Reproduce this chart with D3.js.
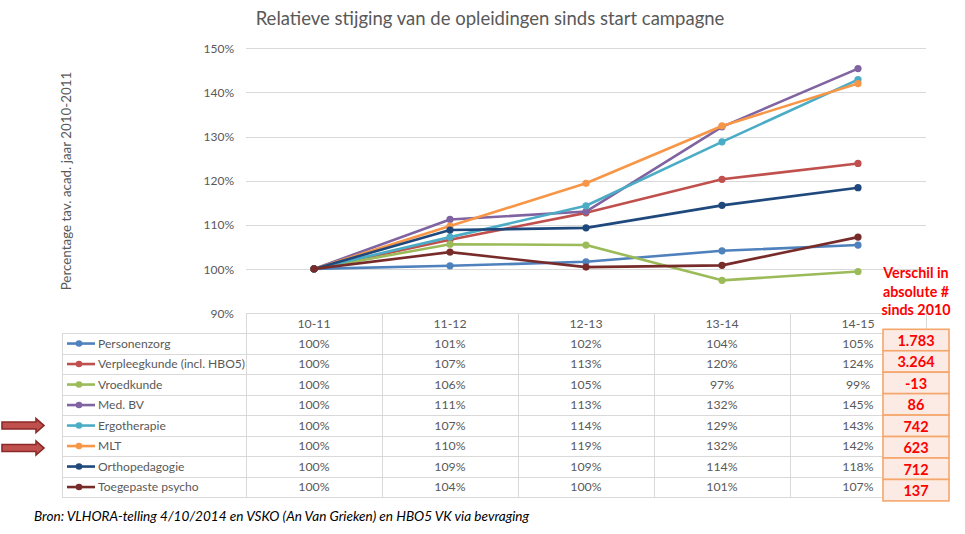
<!DOCTYPE html>
<html><head><meta charset="utf-8">
<script src="https://cdn.jsdelivr.net/npm/d3@7"></script>
<style>
html,body{margin:0;padding:0;background:#fff;}
svg{display:block;font-family:Lato,"Open Sans",sans-serif;}
</style></head>
<body>
<svg id="chart" width="965" height="534"></svg>
<script>
const categories = ["10-11","11-12","12-13","13-14","14-15"];
const seriesNames = ["Personenzorg","Verpleegkunde (incl. HBO5)","Vroedkunde","Med. BV","Ergotherapie","MLT","Orthopedagogie","Toegepaste psycho"];
const personenzorg = [1.000,1.007,1.016,1.041,1.054];
const verpleegkunde = [1.000,1.066,1.127,1.203,1.239];
const vroedkunde = [1.000,1.056,1.054,0.974,0.994];
const medBV = [1.000,1.112,1.130,1.322,1.454];
const ergotherapie = [1.000,1.072,1.143,1.288,1.429];
const mlt = [1.000,1.097,1.194,1.324,1.420];
const orthopedagogie = [1.000,1.088,1.093,1.144,1.184];
const toegepastePsycho = [1.000,1.038,1.004,1.008,1.072];
const seriesValues = [personenzorg,verpleegkunde,vroedkunde,medBV,ergotherapie,mlt,orthopedagogie,toegepastePsycho];
const seriesColors = ["#4f81bd","#c0504d","#9bbb59","#8064a2","#4bacc6","#f79646","#1f497d","#772c2a"];
const absoluteDiff = ["1.783","3.264","-13","86","742","623","712","137"];
const yTicks = [0.9,1.0,1.1,1.2,1.3,1.4,1.5];
const highlighted = ["Ergotherapie","MLT"];
const titleText = "Relatieve stijging van de opleidingen sinds start campagne";
const yLabel = "Percentage tav. acad. jaar 2010-2011";
const diffHeader = ["Verschil in","absolute #","sinds  2010"];
const sourceText = "Bron: VLHORA-telling 4/10/2014 en VSKO (An Van Grieken) en HBO5 VK via bevraging";

const svg = d3.select("#chart");
const textCol = "#595959", gridCol = "#d9d9d9";
const x = d3.scaleBand().domain(categories).range([246,926]);
const y = d3.scaleLinear().domain([0.9,1.5]).range([313,48.3]);

// title
svg.append("text").attr("x",490).attr("y",25).attr("text-anchor","middle")
  .attr("font-size",18.5).attr("fill",textCol).text(titleText);

// y label
svg.append("text").attr("transform","translate(71,181) rotate(-90)")
  .attr("text-anchor","middle").attr("font-size",13.4).attr("fill",textCol).text(yLabel);

// gridlines
svg.append("g").selectAll("line").data(yTicks.filter(d=>d>0.9)).join("line")
  .attr("x1",246).attr("x2",926).attr("y1",d=>Math.round(y(d))+0.5).attr("y2",d=>Math.round(y(d))+0.5)
  .attr("stroke",gridCol).attr("stroke-width",1);

// y axis
const yAxis = d3.axisLeft(y).tickValues(yTicks).tickSize(0).tickPadding(0).tickFormat(d3.format(".0%"));
const ya = svg.append("g").attr("transform","translate(234,0)").call(yAxis);
ya.select(".domain").remove();
ya.selectAll("text").attr("font-size",12).attr("fill",textCol).attr("font-family","Lato,sans-serif").attr("dy","0.35em");

// lines
const line = d3.line().x((d,i)=>x(categories[i])+x.bandwidth()/2).y(d=>y(d));
seriesValues.forEach((vals,si)=>{
  const g = svg.append("g");
  g.append("path").attr("d",line(vals)).attr("fill","none").attr("stroke",seriesColors[si])
    .attr("stroke-width",2.6).attr("stroke-linejoin","round").attr("stroke-linecap","round");
  g.selectAll("circle").data(vals).join("circle")
    .attr("cx",(d,i)=>x(categories[i])+x.bandwidth()/2).attr("cy",d=>y(d)).attr("r",3.6)
    .attr("fill",seriesColors[si]);
});

// data table
const tbl = svg.append("g");
const rowTop = 333.3, rowH = 20.5, headTop = 313;
const tableLeft = 62, tableRight = 926;
const rowY = i => rowTop + i*rowH;
tbl.append("line").attr("x1",246).attr("x2",tableRight).attr("y1",headTop+0.5).attr("y2",headTop+0.5).attr("stroke",gridCol);
categories.forEach(c=>{
  tbl.append("text").attr("x",x(c)+x.bandwidth()/2).attr("y",headTop+15).attr("text-anchor","middle")
    .attr("font-size",12.3).attr("fill",textCol).text(c);
});
d3.range(seriesNames.length+1).forEach(i=>{
  tbl.append("line").attr("x1",tableLeft).attr("x2",tableRight).attr("y1",Math.round(rowY(i))+0.5).attr("y2",Math.round(rowY(i))+0.5).attr("stroke",gridCol);
});
tbl.append("line").attr("x1",tableLeft+0.5).attr("x2",tableLeft+0.5).attr("y1",rowY(0)).attr("y2",rowY(seriesNames.length)).attr("stroke",gridCol);
categories.forEach(c=>{
  const xx = Math.round(x(c))+0.5;
  tbl.append("line").attr("x1",xx).attr("x2",xx).attr("y1",headTop).attr("y2",rowY(seriesNames.length)).attr("stroke",gridCol);
});
tbl.append("line").attr("x1",tableRight+0.5).attr("x2",tableRight+0.5).attr("y1",headTop).attr("y2",rowY(seriesNames.length)).attr("stroke",gridCol);

seriesNames.forEach((name,si)=>{
  const cy = rowY(si)+rowH/2;
  tbl.append("line").attr("x1",67).attr("x2",95).attr("y1",cy).attr("y2",cy).attr("stroke",seriesColors[si]).attr("stroke-width",2.6);
  tbl.append("circle").attr("cx",79).attr("cy",cy).attr("r",3.3).attr("fill",seriesColors[si]);
  tbl.append("text").attr("x",98).attr("y",cy+4.3).attr("font-size",12.1).attr("fill",textCol).text(name);
  seriesValues[si].forEach((v,i)=>{
    tbl.append("text").attr("x",x(categories[i])+x.bandwidth()/2).attr("y",cy+4.3).attr("text-anchor","middle")
      .attr("font-size",12.3).attr("fill",textCol).text(Math.round(v*100)+"%");
  });
});

// arrows for highlighted rows
highlighted.forEach(name=>{
  const si = seriesNames.indexOf(name);
  const cy = rowY(si)+rowH/2 + (si===5?2:0);
  const p = `M2,${cy-3.5} L36,${cy-3.5} L36,${cy-7} L44,${cy} L36,${cy+7} L36,${cy+3.5} L2,${cy+3.5} Z`;
  svg.append("path").attr("d",p).attr("fill","#c0504d").attr("stroke","#8c2a28").attr("stroke-width",1.6).attr("stroke-linejoin","miter");
});

// difference column
const boxTop = 329.3, boxH = 21.45, boxX = 883, boxW = 66;
absoluteDiff.forEach((v,i)=>{
  svg.append("rect").attr("x",boxX).attr("y",boxTop+i*boxH).attr("width",boxW).attr("height",boxH)
    .attr("fill","#fcebe4").attr("stroke","#f5a66c").attr("stroke-width",1.6);
  svg.append("text").attr("x",boxX+boxW/2).attr("y",boxTop+i*boxH+boxH/2+6).attr("text-anchor","middle")
    .attr("font-size",14.5).attr("font-weight","bold").attr("fill","#ff0000").text(v);
});
diffHeader.forEach((t,i)=>{
  svg.append("text").attr("x",916).attr("y",278+i*18.5).attr("text-anchor","middle")
    .attr("font-size",14.3).attr("font-weight","bold").attr("fill","#ff0000").text(t);
});

// source
svg.append("text").attr("x",34).attr("y",521).attr("font-size",13.6).attr("font-style","italic")
  .attr("fill","#000").text(sourceText);
</script>
</body></html>
